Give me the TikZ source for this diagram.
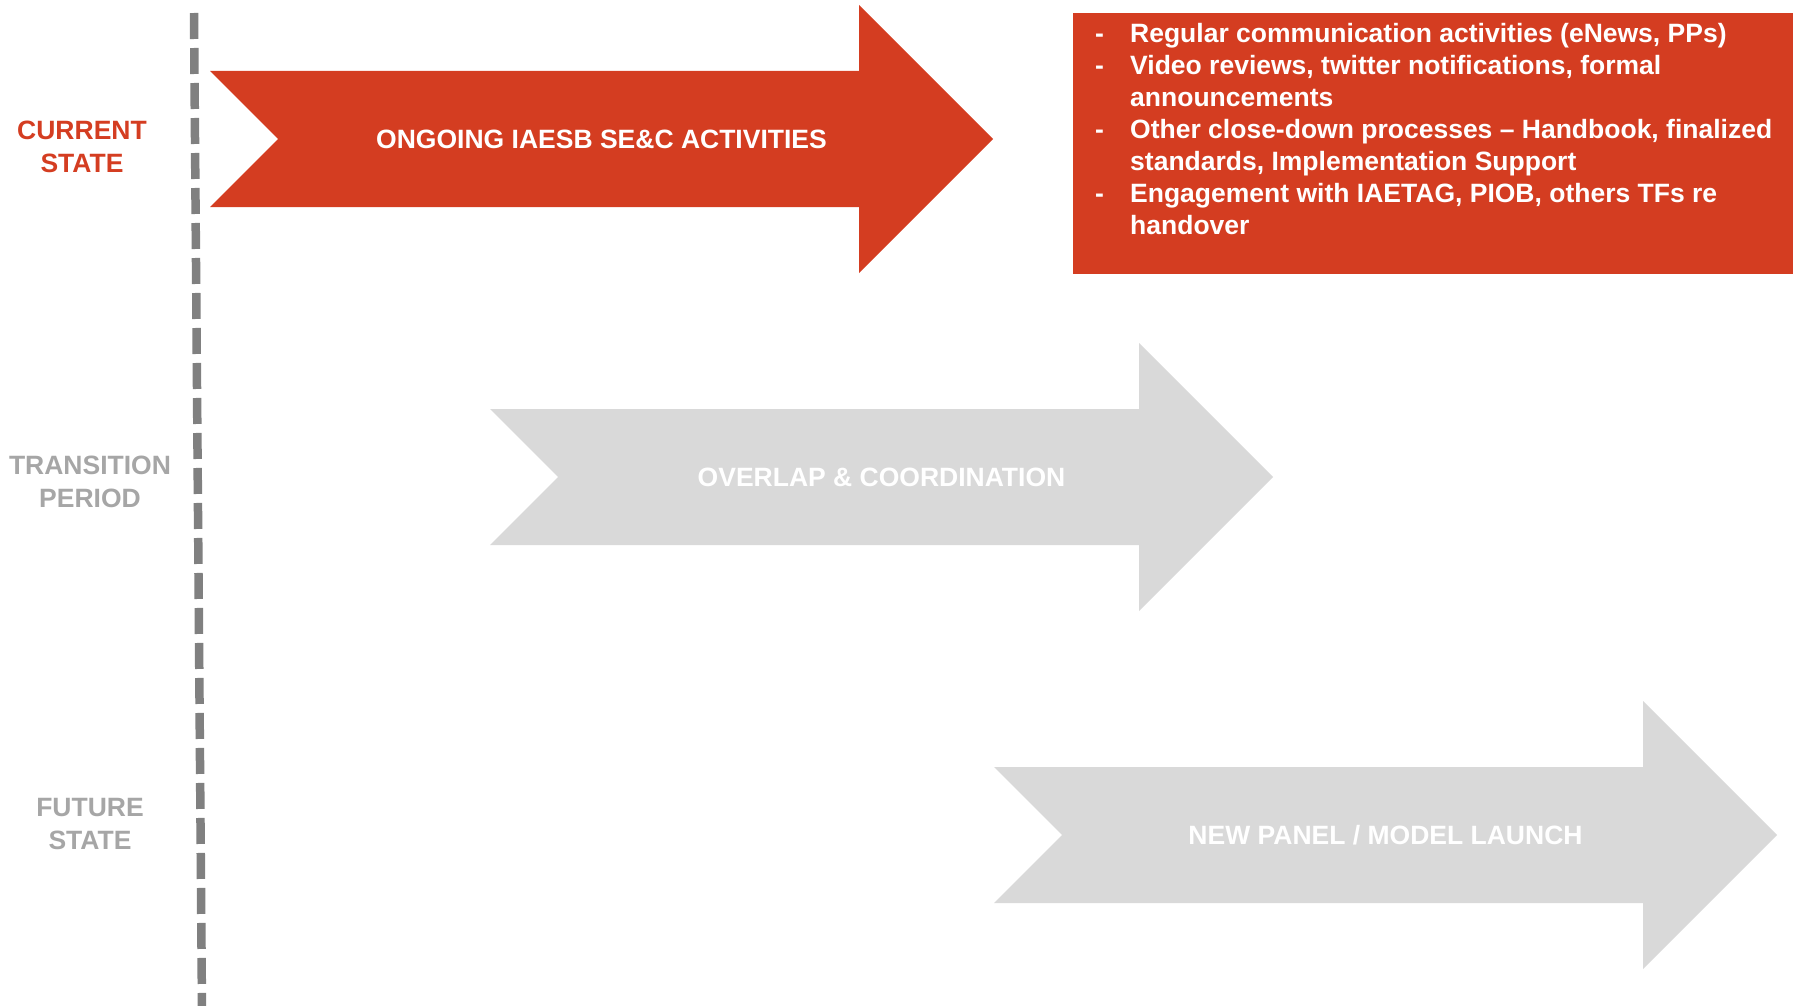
\documentclass[tikz,border=0pt]{standalone}
\usepackage{fontspec}
\setmainfont{Liberation Sans}
\usepackage{array}
\definecolor{accent}{RGB}{212,61,33}
\definecolor{lightarrow}{RGB}{217,217,217}
\definecolor{labelgray}{RGB}{166,166,166}
\definecolor{divgray}{RGB}{128,128,128}
\tikzset{
  chevron/.pic={\path[pic actions] (0,-68) -- (649,-68) -- (649,-134) -- (783,0) -- (649,134) -- (649,68) -- (0,68) -- (68,0) -- cycle;},
  statelabel/.style={font=\fontsize{26.5}{33}\selectfont\bfseries, align=center, inner sep=0pt},
  arrowtext/.style={font=\fontsize{26.5}{32}\selectfont\bfseries, text=white, inner sep=0pt},
  divider/.style={draw=divgray, line width=8.5pt, dash pattern=on 26pt off 9pt, line cap=butt},
}
\begin{document}
\begin{tikzpicture}[x=1pt,y=-1pt]
\useasboundingbox (0,0) rectangle (1800,1006);
% divider
\coordinate (dtop) at (194,13);
\coordinate (dbot) at (202,1010);
\draw[divider] (dtop) -- (dbot);
% state labels
\node[statelabel, text=accent] (cur) at (82,147) {CURRENT\\STATE};
\node[statelabel, text=labelgray] (trans) at (90,482) {TRANSITION\\PERIOD};
\node[statelabel, text=labelgray] (fut) at (90,824.5) {FUTURE\\STATE};
% arrows
\pic[fill=accent] at (210,139) {chevron};
\node[arrowtext] (a1) at (601.5,139) {ONGOING IAESB SE\&C ACTIVITIES};
\pic[fill=lightarrow] at (490,477) {chevron};
\node[arrowtext] (a2) at (881.5,477) {OVERLAP \& COORDINATION};
\pic[fill=lightarrow] at (994,835) {chevron};
\node[arrowtext] (a3) at (1385.5,835) {NEW PANEL / MODEL LAUNCH};
% box
\node[fill=accent, inner sep=0pt, minimum width=720pt, minimum height=261pt, anchor=north west] (box) at (1073,13) {};
\node[font=\fontsize{26.5}{32}\selectfont\bfseries, text=white, inner sep=0pt, anchor=north west] (boxtext) at (1095,19.6) {%
\begin{tabular}{@{}p{35pt}@{}l@{}}
-& Regular communication activities (eNews, PPs)\\
-& Video reviews, twitter notifications, formal\\
 & announcements\\
-& Other close-down processes – Handbook, finalized\\
 & standards, Implementation Support\\
-& Engagement with IAETAG, PIOB, others TFs re\\
 & handover
\end{tabular}};
\end{tikzpicture}
\end{document}
